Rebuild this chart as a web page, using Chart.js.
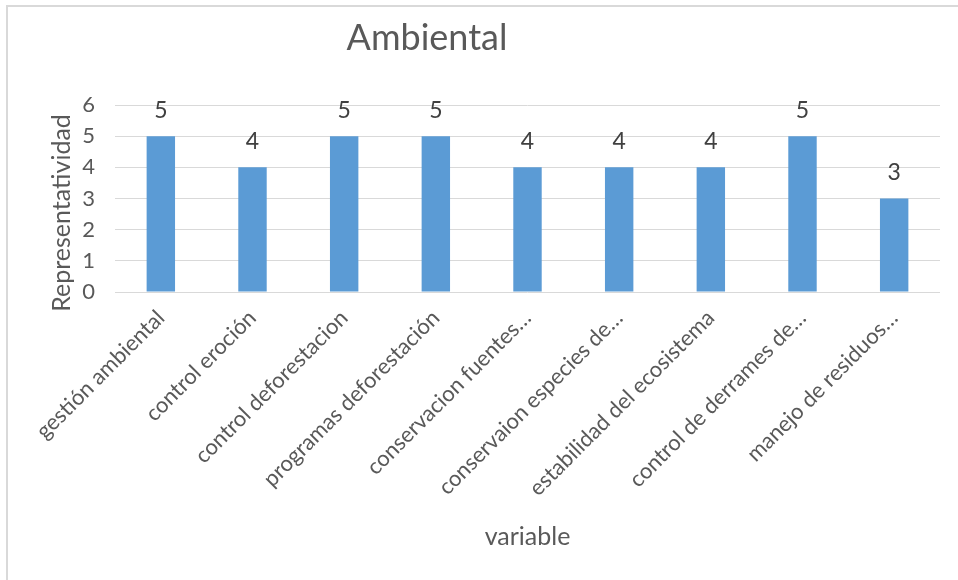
<!DOCTYPE html>
<html>
<head>
<meta charset="utf-8">
<script src="https://cdn.jsdelivr.net/npm/chart.js@4"></script>
<style>
  html, body { margin: 0; padding: 0; background: #fff; }
  #wrap { width: 958px; height: 580px; }
</style>
</head>
<body>
<div id="wrap"><canvas id="grafico" width="958" height="580"></canvas></div>
<script>
// datos del gráfico
const categorias = [
  'gestión ambiental',
  'control eroción',
  'control deforestacion',
  'programas deforestación',
  'conservacion fuentes…',
  'conservaion especies de…',
  'estabilidad del ecosistema',
  'control de derrames de…',
  'manejo de residuos…'
];
const valores = [5, 4, 5, 5, 4, 4, 4, 5, 3];
const tituloGrafico = 'Ambiental';
const tituloEjeY = 'Representatividad';
const tituloEjeX = 'variable';

const fuente = 'Lato, Carlito, Calibri, sans-serif';
const gris = '#595959';

// borde, título y etiquetas de valor
const textos = {
  id: 'textos',
  beforeDraw(chart) {
    const ctx = chart.ctx;
    ctx.save();
    ctx.fillStyle = '#d9d9d9';
    ctx.fillRect(6, 5, 2, 575);
    ctx.fillRect(6, 5, 952, 2);
    ctx.restore();
  },
  afterDraw(chart) {
    const ctx = chart.ctx;
    ctx.save();
    ctx.fillStyle = gris;
    ctx.textAlign = 'center';
    ctx.textBaseline = 'middle';
    ctx.font = '36px ' + fuente;
    ctx.fillText(tituloGrafico, 427, 38);

    // título del eje y
    ctx.font = '25px ' + fuente;
    ctx.translate(62, 213);
    ctx.rotate(-Math.PI / 2);
    ctx.fillText(tituloEjeY, 0, 0);
    ctx.restore();

    // valores encima de las barras
    ctx.save();
    ctx.fillStyle = '#404040';
    ctx.font = '23px ' + fuente;
    ctx.textAlign = 'center';
    ctx.textBaseline = 'middle';
    const meta = chart.getDatasetMeta(0);
    meta.data.forEach((barra, i) => {
      ctx.fillText(String(valores[i]), barra.x, barra.y - 26);
    });
    ctx.restore();
  }
};

new Chart(document.getElementById('grafico'), {
  type: 'bar',
  data: {
    labels: categorias,
    datasets: [{
      data: valores,
      backgroundColor: '#5B9BD5',
      barPercentage: 0.31,
      categoryPercentage: 1
    }]
  },
  options: {
    responsive: false,
    animation: false,
    layout: { padding: { top: 105, right: 18, left: 0, bottom: 0 } },
    plugins: {
      legend: { display: false },
      tooltip: { enabled: false }
    },
    scales: {
      x: {
        afterFit(s) { s.height = 288; },
        grid: { display: false, drawTicks: false },
        border: { display: false },
        ticks: {
          color: gris,
          font: { family: fuente, size: 22 },
          maxRotation: 45,
          minRotation: 45,
          autoSkip: false,
          padding: 13
        },
        title: {
          display: true,
          text: tituloEjeX,
          color: gris,
          font: { family: fuente, size: 25 },
          padding: { top: 4, bottom: 28 }
        }
      },
      y: {
        min: 0,
        max: 6,
        afterFit(s) { s.width = 115; },
        grid: { color: '#d9d9d9', drawTicks: false },
        border: { display: false },
        ticks: {
          stepSize: 1,
          autoSkip: false,
          color: gris,
          font: { family: fuente, size: 22 },
          padding: 20
        }
      }
    }
  },
  plugins: [textos]
});
</script>
</body>
</html>
